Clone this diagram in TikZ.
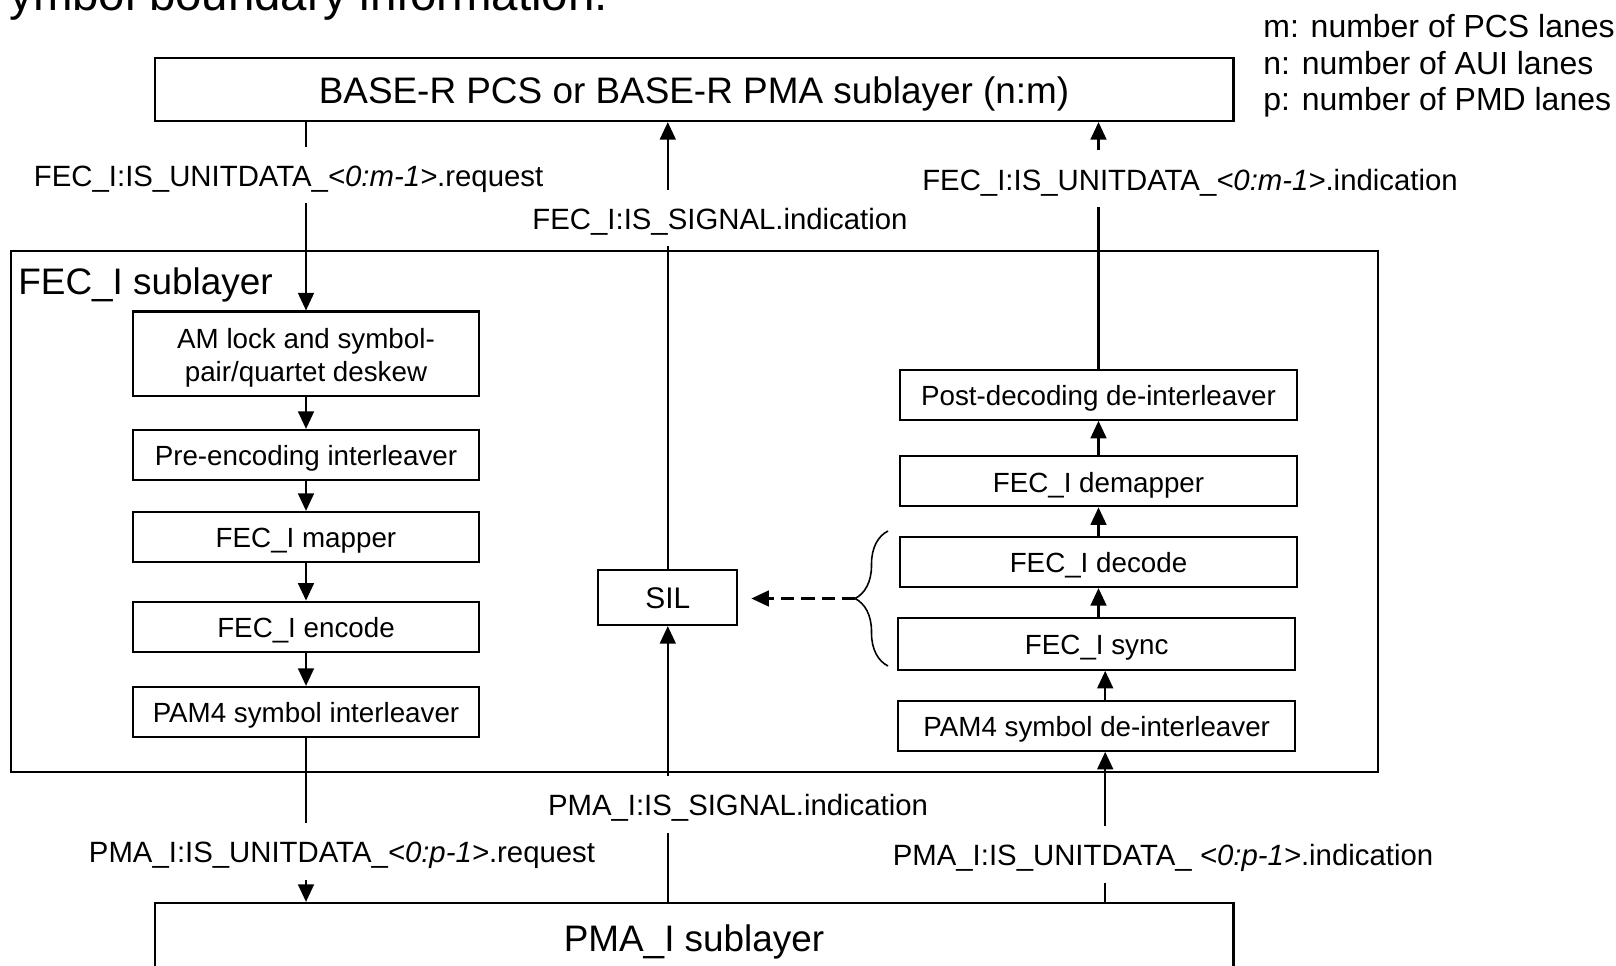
\documentclass[tikz,border=0pt]{standalone}
\usepackage{fontspec}
\setmainfont{Liberation Sans}
\usetikzlibrary{arrows.meta, positioning, calc, decorations.pathreplacing}

\begin{document}
\begin{tikzpicture}[
    x=0.02cm, y=-0.02cm,
    every node/.style={inner sep=0pt},
    blk/.style={draw, line width=1.25pt, minimum height=1cm, align=center, text height=12.3pt, text depth=0pt, font=\fontsize{15.8}{18.8}\selectfont},
    lft/.style={blk, minimum width=6.92cm},
    rgt/.style={blk, minimum width=7.94cm},
    layer/.style={draw, line width=1.25pt, minimum width=21.58cm, text height=16.4pt, text depth=0pt, font=\fontsize{21}{25}\selectfont},
    sig/.style={minimum height=1.12cm, text height=13pt, text depth=0pt, font=\fontsize{16.7}{20}\selectfont},
    note/.style={anchor=base west, font=\fontsize{18.2}{21}\selectfont},
    wire/.style={line width=1.3pt},
    flow/.style={line width=1.3pt, -{Triangle[length=10pt, width=9pt]}},
]
\useasboundingbox (0,0) rectangle (1616,966);
\clip (0,0) rectangle (1616,966);

% ---------------- title (cut off) and legend
\node[anchor=base west, font=\fontsize{27}{32}\selectfont] (ttl) at (9, 11) {ymbol boundary information.};
\node[note] (lgm) at (1263, 37.5) {m: number of PCS lanes};
\node[note] (lgn) at (1263, 74.5) {n: number of AUI lanes};
\node[note] (lgp) at (1263, 111) {p: number of PMD lanes};

% ---------------- layers
\node[layer, minimum height=1.26cm] (top) at (694, 89.5) {BASE-R PCS or BASE-R PMA sublayer (n:m)};
\node[layer, minimum height=1.36cm] (pma) at (694, 937) {PMA\_I sublayer};
\node[draw, line width=1.25pt, minimum width=27.35cm, minimum height=10.42cm] (fec) at (694.25, 511.5) {};
\node[anchor=base west, font=\fontsize{21}{25}\selectfont] (fecname) at (18, 295) {FEC\_I sublayer};

% ---------------- transmit path
\node[lft, minimum height=1.69cm, text height=31.8pt] (am) at (306, 353.8) {AM lock and symbol-\\pair/quartet deskew};
\node[lft] (pre) at (306, 455) {Pre-encoding interleaver};
\node[lft] (map) at (306, 537) {FEC\_I mapper};
\node[lft] (enc) at (306, 626.7) {FEC\_I encode};
\node[lft] (pil) at (306, 712) {PAM4 symbol interleaver};

% ---------------- receive path
\node[rgt] (post) at (1098.5, 394.7) {Post-decoding de-interleaver};
\node[rgt] (dem) at (1098.5, 481.3) {FEC\_I demapper};
\node[rgt] (dec) at (1098.5, 562) {FEC\_I decode};
\node[rgt, minimum height=1.03cm] (syn) at (1096.7, 644) {FEC\_I sync};
\node[rgt] (pdi) at (1096.7, 725.7) {PAM4 symbol de-interleaver};
\coordinate (rx) at ([xshift=0.17cm]pdi.south);

\node[blk, minimum width=2.78cm, minimum height=1.1cm, text height=12.6pt, font=\fontsize{17}{20}\selectfont] (sil) at (667.8, 597.5) {SIL};

% ---------------- primitive names
\node[sig] (lreq) at (288.6, 175) {FEC\_I:IS\_UNITDATA\_\textit{<0:m-1>}.request};
\node[sig] (sigu) at (720, 218) {FEC\_I:IS\_SIGNAL.indication};
\node[sig] (rind) at (1190, 178.7) {FEC\_I:IS\_UNITDATA\_\textit{<0:m-1>}.indication};
\node[sig] (preq) at (342, 851.5) {PMA\_I:IS\_UNITDATA\_\textit{<0:p-1>}.request};
\node[sig] (sigl) at (738, 804.5) {PMA\_I:IS\_SIGNAL.indication};
\node[sig] (pind) at (1163, 854.5) {PMA\_I:IS\_UNITDATA\_ \textit{<0:p-1>}.indication};

% ---------------- connectors, left
\draw[wire] (top.south -| am.north) -- (am.north |- lreq.north);
\draw[flow] (am.north |- lreq.south) -- (am.north);
\foreach \a/\b in {am/pre, pre/map, map/enc, enc/pil}
    \draw[flow] (\a) -- (\b);
\draw[wire] (pil.south) -- (pil.south |- preq.north);
\draw[flow] (pil.south |- preq.south) -- (pil.south |- pma.north);

% ---------------- connectors, middle
\draw[flow] (sil.north |- sigu.north) -- (sil.north |- top.south);
\draw[wire] (sil.north) -- (sil.north |- sigu.south);
\draw[flow] (sil.south |- sigl.north) -- (sil.south);
\draw[wire] (sil.south |- sigl.south) -- (sil.south |- pma.north);

% ---------------- connectors, right
\draw[flow] (post.north |- rind.north) -- (post.north |- top.south);
\draw[wire] (post.north) -- (post.north |- rind.south);
\draw[flow] (dem) -- (post);
\draw[flow] (dec) -- (dem);
\draw[flow] (syn.north -| dec) -- (dec.south);
\draw[flow] (rx |- pdi.north) -- (rx |- syn.south);
\draw[flow] (rx |- pind.north) -- (rx);
\draw[wire] (rx |- pind.south) -- (rx |- pma.north);

% brace over sync and decode, pointing at SIL
\draw[line width=0.9pt, decorate, decoration={brace, amplitude=0.66cm}] (888, 666) -- (888, 531);
\coordinate (brtip) at (855, 598.5);
\draw[flow, dash pattern=on 7.5pt off 4pt, shorten >=0.26cm] (brtip) -- (sil.east |- brtip);
\end{tikzpicture}
\end{document}
